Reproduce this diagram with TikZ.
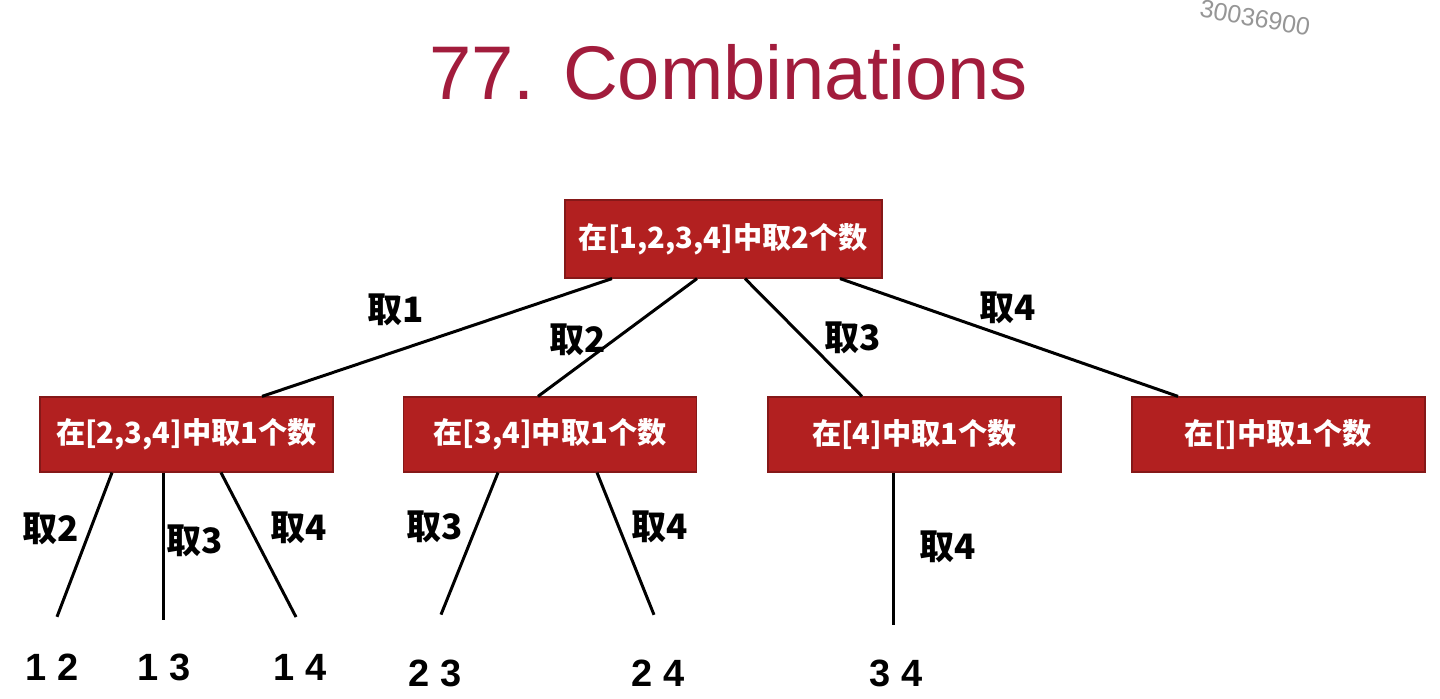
\documentclass[tikz,border=0pt]{standalone}
\usepackage{fontspec}
\setmainfont{Liberation Sans}
\newfontfamily\cjk{Noto Sans CJK SC}
\usetikzlibrary{calc}
\definecolor{titlecol}{RGB}{162,28,60}
\definecolor{boxcol}{RGB}{178,32,32}
\definecolor{markcol}{RGB}{150,150,150}

\begin{document}
\begin{tikzpicture}[x=0.5pt,y=-0.5pt,
  task/.style={fill=boxcol,draw=boxcol!75!black,line width=0.6pt,text=white,
    font=\cjk\bfseries\fontsize{14.6}{17}\selectfont,
    minimum width=146.5pt,minimum height=37.5pt,inner sep=0pt},
  pick/.style={font=\cjk\bfseries\fontsize{17.5}{20}\selectfont,inner sep=0pt},
  leaf/.style={font=\bfseries\fontsize{19}{22}\selectfont,inner sep=0pt},
  branch/.style={line width=1.5pt}]
  \fill[white] (0,0) rectangle (1440,699);
  \useasboundingbox (0,0) rectangle (1440,699);

  % title and watermark
  \node[text=titlecol,font=\fontsize{38}{44}\selectfont,inner sep=0pt] (title) at (728.5,72) {77. Combinations};
  \node[text=markcol,font=\fontsize{12.5}{15}\selectfont,rotate=-10,inner sep=0pt] (mark) at (1255,18) {30036900};

  % root
  \node[task,minimum width=158.5pt,minimum height=39pt] (root) at (723.5,239) {在[1,2,3,4]中取2个数};

  % first level
  \node[task] (sub1) at (186.5,434.5) {在[2,3,4]中取1个数};
  \node[task] (sub2) at (550,434.5) {在[3,4]中取1个数};
  \node[task] (sub3) at (914.5,434.5) {在[4]中取1个数};
  \node[task] (sub4) at (1278.5,434.5) {在[]中取1个数};

  \draw[branch] ($(root.south)+(-111.5,0)$) -- ($(sub1.north)+(75.5,0)$);
  \draw[branch] ($(root.south)+(-26.5,0)$) -- ($(sub2.north)+(-12,0)$);
  \draw[branch] ($(root.south)+(21.5,0)$) -- ($(sub3.north)+(-52.5,0)$);
  \draw[branch] ($(root.south)+(116.5,0)$) -- ($(sub4.north)+(-100.5,0)$);
  \node[pick] (p1) at (396,310) {取1};
  \node[pick] (p2) at (578,340) {取2};
  \node[pick] (p3) at (853,338) {取3};
  \node[pick] (p4) at (1008,308) {取4};

  % results
  \node[leaf] (r12) at (52,667) {1 2};
  \node[leaf] (r13) at (164,667) {1 3};
  \node[leaf] (r14) at (300,667) {1 4};
  \node[leaf] (r23) at (435,673) {2 3};
  \node[leaf] (r24) at (658,673) {2 4};
  \node[leaf] (r34) at (896,673) {3 4};

  \draw[branch] ($(sub1.south)+(-74.5,0)$) -- ($(r12.north)+(5,-36.5)$);
  \draw[branch] ($(sub1.south)+(-23.5,0)$) -- ($(r13.north)+(-1,-33.5)$);
  \draw[branch] ($(sub1.south)+(34.5,0)$) -- ($(r14.north)+(-4,-36.5)$);
  \draw[branch] ($(sub2.south)+(-52,0)$) -- ($(r23.north)+(6,-44.5)$);
  \draw[branch] ($(sub2.south)+(47,0)$) -- ($(r24.north)+(-4,-44.5)$);
  \draw[branch] ($(sub3.south)+(-21.5,0)$) -- ($(r34.north)+(-3,-34.5)$);
  \node[pick] (q12) at (51,529) {取2};
  \node[pick] (q13) at (195,541) {取3};
  \node[pick] (q14) at (299,528) {取4};
  \node[pick] (q23) at (435,527) {取3};
  \node[pick] (q24) at (660,527) {取4};
  \node[pick] (q34) at (948,547) {取4};
\end{tikzpicture}
\end{document}
